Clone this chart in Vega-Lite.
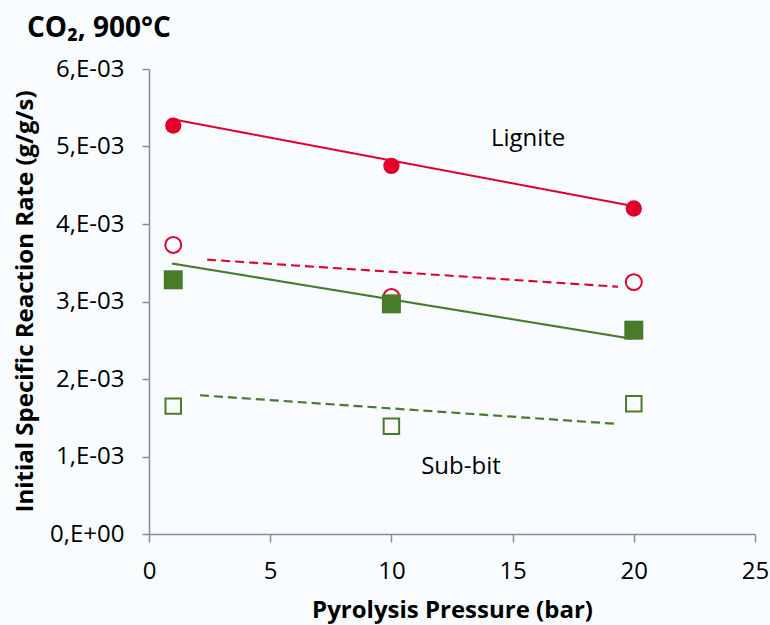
{
  "$schema": "https://vega.github.io/schema/vega-lite/v6.json",
  "width": 606,
  "height": 465,
  "autosize": "none",
  "padding": {"left": 149, "top": 69, "right": 15, "bottom": 91},
  "background": "#F8FCFE",
  "config": {
    "view": {"stroke": null},
    "font": "Open Sans"
  },
  "title": {
    "text": "CO₂, 900°C",
    "anchor": "start",
    "frame": "group",
    "orient": "top",
    "fontSize": 28,
    "fontWeight": "bold",
    "color": "#000000",
    "baseline": "alphabetic",
    "offset": 18,
    "dx": -122,
    "dy": 26
  },
  "datasets": {
    "points": [
      {"pressure": 1, "rate": 0.00527, "coal": "Lignite", "marker": "filled"},
      {"pressure": 10, "rate": 0.00475, "coal": "Lignite", "marker": "filled"},
      {"pressure": 20, "rate": 0.00420, "coal": "Lignite", "marker": "filled"},
      {"pressure": 1, "rate": 0.00373, "coal": "Lignite", "marker": "open"},
      {"pressure": 10, "rate": 0.00306, "coal": "Lignite", "marker": "open"},
      {"pressure": 20, "rate": 0.00325, "coal": "Lignite", "marker": "open"},
      {"pressure": 1, "rate": 0.00328, "coal": "Sub-bit", "marker": "filled"},
      {"pressure": 10, "rate": 0.00297, "coal": "Sub-bit", "marker": "filled"},
      {"pressure": 20, "rate": 0.00263, "coal": "Sub-bit", "marker": "filled"},
      {"pressure": 1, "rate": 0.00165, "coal": "Sub-bit", "marker": "open"},
      {"pressure": 10, "rate": 0.00139, "coal": "Sub-bit", "marker": "open"},
      {"pressure": 20, "rate": 0.00168, "coal": "Sub-bit", "marker": "open"}
    ],
    "fits": [
      {"pressure": 1, "rate": 0.00535, "coal": "Lignite", "marker": "filled", "series": "Lignite filled"},
      {"pressure": 20, "rate": 0.00423, "coal": "Lignite", "marker": "filled", "series": "Lignite filled"},
      {"pressure": 2.4, "rate": 0.00354, "coal": "Lignite", "marker": "open", "series": "Lignite open"},
      {"pressure": 19.35, "rate": 0.00319, "coal": "Lignite", "marker": "open", "series": "Lignite open"},
      {"pressure": 0.95, "rate": 0.00349, "coal": "Sub-bit", "marker": "filled", "series": "Sub-bit filled"},
      {"pressure": 19.9, "rate": 0.00252, "coal": "Sub-bit", "marker": "filled", "series": "Sub-bit filled"},
      {"pressure": 2.1, "rate": 0.00179, "coal": "Sub-bit", "marker": "open", "series": "Sub-bit open"},
      {"pressure": 19.35, "rate": 0.00142, "coal": "Sub-bit", "marker": "open", "series": "Sub-bit open"}
    ],
    "labels": [
      {"pressure": 15.64, "rate": 0.00510, "label": "Lignite"},
      {"pressure": 12.87, "rate": 0.00086, "label": "Sub-bit"}
    ]
  },
  "encoding": {
    "x": {
      "field": "pressure",
      "type": "quantitative",
      "scale": {"domain": [0, 25], "nice": false, "zero": false},
      "axis": {
        "title": "Pyrolysis Pressure (bar)",
        "values": [0, 5, 10, 15, 20, 25],
        "grid": false,
        "domainColor": "#8C8C8C",
        "domainWidth": 1.5,
        "tickColor": "#8C8C8C",
        "tickWidth": 1.5,
        "tickSize": 8,
        "labelFontSize": 24,
        "labelColor": "#000000",
        "labelPadding": 17,
        "labelFlush": false,
        "titleFontSize": 24,
        "titleFontWeight": "bold",
        "titleColor": "#000000",
        "titleBaseline": "middle",
        "titleY": 76
      }
    },
    "y": {
      "field": "rate",
      "type": "quantitative",
      "scale": {"domain": [0, 0.006], "nice": false},
      "axis": {
        "title": "Initial Specific Reaction Rate (g/g/s)",
        "values": [0, 0.001, 0.002, 0.003, 0.004, 0.005, 0.006],
        "labelExpr": "datum.value == 0 ? '0,E+00' : format(datum.value * 1000, '.0f') + ',E-03'",
        "grid": false,
        "domainColor": "#8C8C8C",
        "domainWidth": 1.5,
        "tickColor": "#8C8C8C",
        "tickWidth": 1.5,
        "tickSize": 7,
        "labelFontSize": 24,
        "labelColor": "#000000",
        "labelPadding": 18,
        "labelFlush": false,
        "titleFontSize": 24,
        "titleFontWeight": "bold",
        "titleColor": "#000000",
        "titleBaseline": "middle",
        "titleX": -124,
        "titleY": 232
      }
    }
  },
  "layer": [
    {
      "data": {"name": "points"},
      "transform": [{"filter": "datum.coal == 'Lignite' && datum.marker == 'filled'"}],
      "mark": {"type": "point", "shape": "circle", "filled": true, "size": 265, "color": "#E4002B", "opacity": 1}
    },
    {
      "data": {"name": "points"},
      "transform": [{"filter": "datum.coal == 'Lignite' && datum.marker == 'open'"}],
      "mark": {"type": "point", "shape": "circle", "filled": false, "size": 254, "strokeWidth": 2, "color": "#E4002B", "opacity": 1}
    },
    {
      "data": {"name": "points"},
      "transform": [{"filter": "datum.coal == 'Sub-bit' && datum.marker == 'filled'"}],
      "mark": {"type": "point", "shape": "square", "filled": true, "size": 361, "color": "#4A7B2B", "opacity": 1}
    },
    {
      "data": {"name": "points"},
      "transform": [{"filter": "datum.coal == 'Sub-bit' && datum.marker == 'open'"}],
      "mark": {"type": "point", "shape": "square", "filled": false, "size": 240, "strokeWidth": 2, "color": "#4A7B2B", "opacity": 1}
    },
    {
      "data": {"name": "fits"},
      "mark": {"type": "line"},
      "encoding": {
        "detail": {"field": "series"},
        "color": {
          "field": "coal",
          "scale": {"domain": ["Lignite", "Sub-bit"], "range": ["#E4002B", "#4A7B2B"]},
          "legend": null
        },
        "strokeDash": {
          "field": "marker",
          "scale": {"domain": ["filled", "open"], "range": [[1, 0], [9, 5]]},
          "legend": null
        },
        "strokeWidth": {
          "field": "series",
          "scale": {
            "domain": ["Lignite filled", "Lignite open", "Sub-bit filled", "Sub-bit open"],
            "range": [2, 2.2, 1.8, 3]
          },
          "legend": null
        }
      }
    },
    {
      "data": {"name": "labels"},
      "mark": {"type": "text", "fontSize": 24, "align": "center", "baseline": "middle", "color": "#000000"},
      "encoding": {"text": {"field": "label"}}
    }
  ]
}
